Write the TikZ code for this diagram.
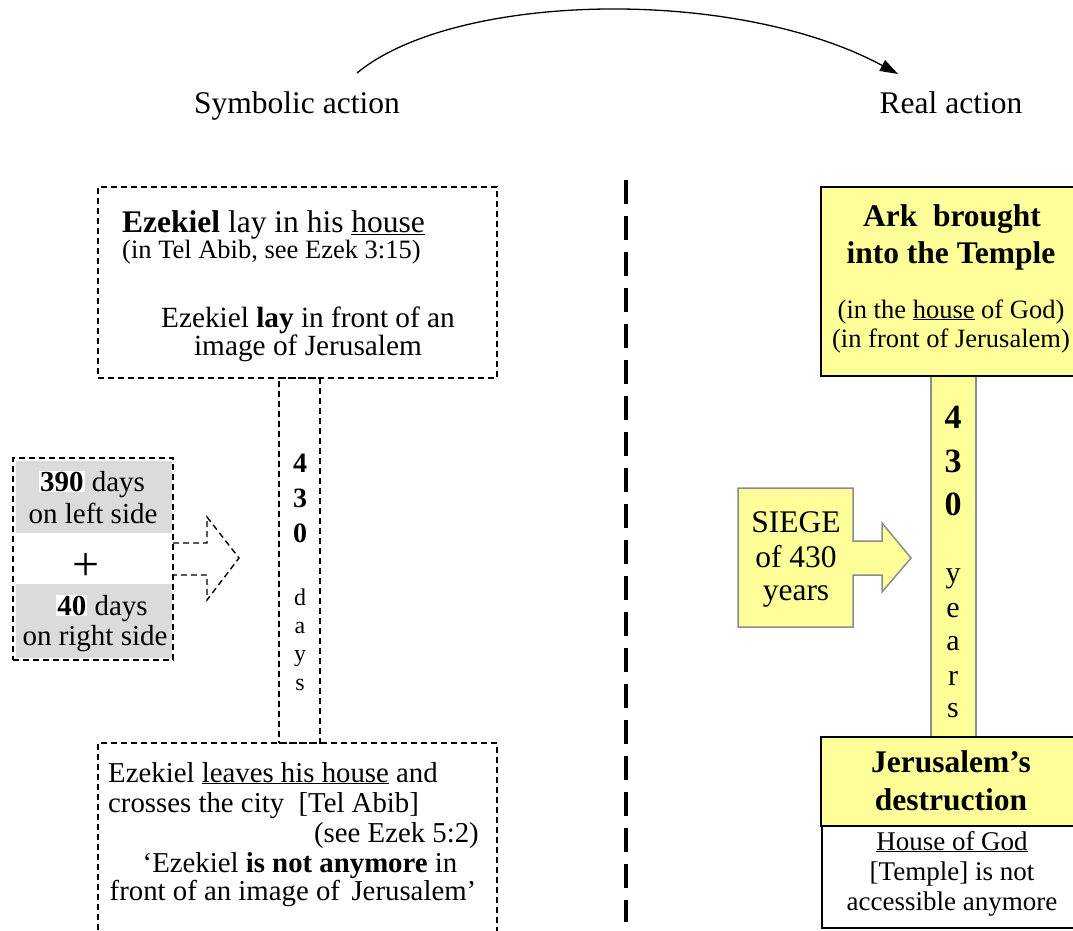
\documentclass[tikz,border=0pt]{standalone}
\usepackage{fontspec}
\setmainfont{Liberation Serif}
\usetikzlibrary{arrows.meta}
\definecolor{ylw}{HTML}{FFFF99}
\definecolor{lgray}{HTML}{DBDBDB}
\definecolor{bgray}{HTML}{8C8C8C}
\newcommand{\fsz}[1]{\fontsize{#1}{#1}\selectfont}
\setlength{\fboxsep}{1pt}
\begin{document}
\begin{tikzpicture}[x=1pt,y=-1pt,
  txt/.style={inner sep=0pt, font=\fsz{29.3}},
  smalltxt/.style={inner sep=0pt, font=\fsz{26.5}},
  dbox/.style={draw=black, line width=1.4pt, dash pattern=on 6pt off 4pt},
  ybox/.style={draw=black, line width=2pt, fill=ylw},
  arc/.style={line width=1.3pt, -{Triangle[length=18pt,width=12pt]}},
  divider/.style={line width=4pt, dash pattern=on 24pt off 12pt}]
\useasboundingbox (0,0) rectangle (1073,930);
\clip (0,0) rectangle (1073,930);
% header
\coordinate (arcS) at (357,73);
\coordinate (arcE) at (898,74);
\draw[arc] (arcS) .. controls (455,-8) and (735,-14) .. (arcE);
\node[txt, font=\fsz{31.5}, anchor=base] (sym) at (297,113) {Symbolic action};
\node[txt, font=\fsz{31.5}, anchor=base] (real) at (951,113) {Real action};
% divider
\draw[divider] (626,180) -- (626,922);
% ---- left side ----
\node[dbox, minimum width=399pt, minimum height=191pt, inner sep=0pt] (tl) at (297.5,282.5) {};
\node[txt, font=\fsz{31.5}, anchor=base west] (tl1) at (122,232) {\textbf{Ezekiel} lay in his \underline{house}};
\node[smalltxt, anchor=base west] (tl2) at (122,258) {(in Tel Abib, see Ezek 3:15)};
\node[txt, anchor=base] (tl3) at (308,327) {Ezekiel \textbf{lay} in front of an};
\node[txt, anchor=base] (tl4) at (308,355) {image of Jerusalem};
% days column
\node[dbox, minimum width=41pt, minimum height=365pt, inner sep=0pt] (col) at (299.5,560.5) {};
\foreach \c/\y in {4/472,3/507,0/542}
  \node[inner sep=0pt, font=\fsz{28}\bfseries, anchor=base] at (300,\y) {\c};
\foreach \c/\y in {d/605,a/633,y/661,s/690}
  \node[inner sep=0pt, font=\fsz{24}, anchor=base] at (300,\y) {\c};
% 390+40 box
\node[dbox, minimum width=160pt, minimum height=202pt, inner sep=0pt] (lb) at (93,559) {};
\fill[lgray] (16,461) rectangle (172,533);
\fill[lgray] (16,584) rectangle (172,658);
\node[txt, font=\fsz{29}, anchor=base] (l1) at (92,491) {\colorbox{white}{\textbf{390}} days};
\node[txt, font=\fsz{29}, anchor=base] (l2) at (93,523) {on left side};
\node[txt, font=\fsz{48}, anchor=center] (plus) at (86,567) {+};
\node[txt, font=\fsz{29}, anchor=base] (l3) at (102,615) {\colorbox{white}{\textbf{40}} days};
\node[txt, font=\fsz{29}, anchor=base] (l4) at (95,645) {on right side};
% dashed block arrow
\draw[dbox] (173,543) -- (207,543) -- (207,517) -- (239,558) -- (207,600) -- (207,575) -- (173,575);
% bottom-left box
\draw[dbox] (98,940) -- (98,743) -- (497,743) -- (497,940);
\node[txt, font=\fsz{28.8}, anchor=base west] (b1) at (108,782) {Ezekiel \underline{leaves his house} and};
\node[txt, font=\fsz{28.8}, anchor=base west] (b2) at (108,812) {crosses the city\ \ [Tel Abib]};
\node[txt, font=\fsz{28.8}, anchor=base east] (b3) at (479,842) {(see Ezek 5:2)};
\node[txt, font=\fsz{28.8}, anchor=base] (b4) at (300,872) {‘Ezekiel \textbf{is not anymore} in};
\node[txt, font=\fsz{28.8}, anchor=base] (b5) at (293,900) {front of an image of\hspace{0.15em} Jerusalem’};
% ---- right side ----
\draw[draw=bgray, line width=1.5pt, fill=ylw] (931,376) rectangle (976,738);
\node[ybox, minimum width=264pt, minimum height=189pt, inner sep=0pt] (ark) at (953,281.5) {};
\node[inner sep=0pt, font=\fsz{31.5}\bfseries, anchor=base] at (952,226) {Ark\ \ brought};
\node[inner sep=0pt, font=\fsz{31.5}\bfseries, anchor=base] at (951,263) {into the Temple};
\node[smalltxt, anchor=base] at (951,318) {(in the \underline{house} of God)};
\node[smalltxt, anchor=base] at (951,347) {(in front of Jerusalem)};
\foreach \c/\y in {4/428,3/472,0/515}
  \node[inner sep=0pt, font=\fsz{34}\bfseries, anchor=base] at (953,\y) {\c};
\foreach \c/\y in {y/582,e/617,a/650,r/685,s/717}
  \node[inner sep=0pt, font=\fsz{30}, anchor=base] at (953,\y) {\c};
\node[ybox, minimum width=264pt, minimum height=89pt, inner sep=0pt] (jer) at (953,781.5) {};
\node[inner sep=0pt, font=\fsz{31.5}\bfseries, anchor=base] at (951,772) {Jerusalem’s};
\node[inner sep=0pt, font=\fsz{31.5}\bfseries, anchor=base] at (951,810) {destruction};
\node[draw=black, line width=1.5pt, fill=white, minimum width=263pt, minimum height=102pt, inner sep=0pt] (hog) at (953.5,877) {};
\node[inner sep=0pt, font=\fsz{27}, anchor=base] at (952,850) {\underline{House of God}};
\node[inner sep=0pt, font=\fsz{27}, anchor=base] at (952,880) {[Temple] is not};
\node[inner sep=0pt, font=\fsz{27}, anchor=base] at (952,910) {accessible anymore};
% siege arrow
\draw[draw=bgray, line width=1.5pt, fill=ylw] (738,488) -- (853,488) -- (853,541) -- (882,541) -- (882,523) -- (911,558) -- (882,592) -- (882,575) -- (853,575) -- (853,627) -- (738,627) -- cycle;
\node[inner sep=0pt, font=\fsz{31.5}, anchor=base] at (796,532) {SIEGE};
\node[inner sep=0pt, font=\fsz{31.5}, anchor=base] at (796,567) {of 430};
\node[inner sep=0pt, font=\fsz{31.5}, anchor=base] at (796,600) {years};
\end{tikzpicture}
\end{document}
